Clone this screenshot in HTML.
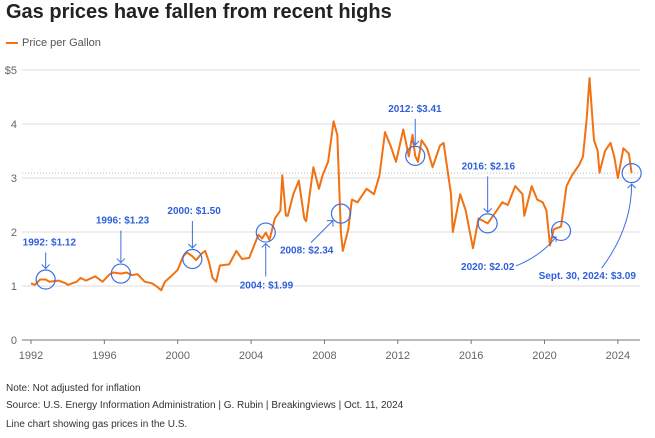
<!DOCTYPE html>
<html><head><meta charset="utf-8">
<style>
body{margin:0;background:#fff;font-family:"Liberation Sans",sans-serif;}
#wrap{position:relative;width:655px;height:438px;overflow:hidden}
.t{position:absolute;white-space:nowrap}
</style></head><body>
<div id="wrap">
<div class="t" style="left:6px;top:1px;font-size:20px;font-weight:bold;color:#222">Gas prices have fallen from recent highs</div>
<div class="t" style="left:6px;top:37px;font-size:11px;color:#555"><span style="display:inline-block;width:12px;height:2px;background:#f07212;vertical-align:middle;margin-right:4px"></span>Price per Gallon</div>
<svg id="ch" width="655" height="370" style="position:absolute;left:0;top:0"></svg>
<div class="t" style="left:6px;top:383px;font-size:10px;color:#333">Note: Not adjusted for inflation</div>
<div class="t" style="left:6px;top:400px;font-size:10px;color:#333">Source: U.S. Energy Information Administration | G. Rubin | Breakingviews | Oct. 11, 2024</div>
<div class="t" style="left:6px;top:419px;font-size:10px;color:#333">Line chart showing gas prices in the U.S.</div>
</div>
<script>
const years=[1992,1992.2,1992.5,1992.8,1993,1993.5,1993.9,1994,1994.5,1994.7,1995,1995.5,1995.9,1996.3,1996.5,1996.9,1997.2,1997.5,1997.8,1998.2,1998.6,1998.9,1999.1,1999.3,1999.7,2000,2000.3,2000.5,2000.8,2001,2001.3,2001.5,2001.7,2001.9,2002.1,2002.3,2002.8,2003.2,2003.5,2003.9,2004.4,2004.6,2004.8,2005,2005.3,2005.6,2005.7,2005.9,2006,2006.3,2006.6,2006.9,2007,2007.4,2007.7,2007.9,2008.2,2008.5,2008.7,2008.9,2009,2009.3,2009.5,2009.8,2010.3,2010.7,2011,2011.3,2011.6,2011.9,2012.3,2012.6,2012.8,2012.95,2013.1,2013.3,2013.6,2013.9,2014.3,2014.5,2014.9,2015,2015.4,2015.7,2015.9,2016.1,2016.4,2016.9,2017.3,2017.7,2018,2018.4,2018.8,2018.9,2019.3,2019.6,2019.9,2020.1,2020.3,2020.5,2020.9,2021.2,2021.5,2021.9,2022.1,2022.3,2022.45,2022.7,2022.9,2023,2023.3,2023.6,2023.8,2024,2024.3,2024.6,2024.75];
const prices=[1.05,1.02,1.12,1.12,1.08,1.10,1.05,1.02,1.08,1.15,1.10,1.18,1.08,1.22,1.25,1.23,1.25,1.20,1.22,1.08,1.05,0.98,0.92,1.08,1.20,1.30,1.55,1.62,1.55,1.48,1.60,1.65,1.45,1.15,1.08,1.38,1.40,1.65,1.50,1.52,1.95,1.88,1.99,1.85,2.25,2.40,3.05,2.30,2.30,2.70,2.95,2.25,2.20,3.20,2.80,3.05,3.30,4.05,3.80,2.00,1.65,2.05,2.60,2.55,2.80,2.70,3.05,3.85,3.60,3.30,3.90,3.40,3.80,3.41,3.30,3.70,3.55,3.20,3.60,3.65,2.70,2.00,2.70,2.40,2.05,1.70,2.25,2.16,2.35,2.55,2.50,2.85,2.70,2.30,2.85,2.60,2.55,2.40,1.75,2.05,2.10,2.85,3.05,3.25,3.40,4.10,4.85,3.70,3.50,3.10,3.50,3.65,3.40,3.00,3.55,3.45,3.09];
const yTicks=[0,1,2,3,4,5];
const yTickLabels=["0","1","2","3","4","$5"];
const xTicks=[1992,1996,2000,2004,2008,2012,2016,2020,2024];
const annYears=[1992.8,1996.9,2000.8,2004.8,2008.9,2012.95,2016.9,2020.9,2024.75];
const annValues=[1.12,1.23,1.50,1.99,2.34,3.41,2.16,2.02,3.09];
const annLabels=["1992: $1.12","1996: $1.23","2000: $1.50","2004: $1.99","2008: $2.34","2012: $3.41","2016: $2.16","2020: $2.02","Sept. 30, 2024: $3.09"];
const refValue=3.09;
const X=y=>31+(y-1992)*18.34, Y=v=>340-v*54;
const svg=document.getElementById('ch'),NS='http://www.w3.org/2000/svg';
function mk(t,a){const e=document.createElementNS(NS,t);for(const k in a)e.setAttribute(k,a[k]);svg.appendChild(e);return e;}
yTicks.forEach((v,i)=>{
 if(v>0){const g=mk('line',{x1:22,x2:640,y1:Y(v),y2:Y(v),stroke:'#ddd','stroke-width':1});
 
 }
 const t=mk('text',{x:17,y:Y(v)+4,'text-anchor':'end','font-size':11,fill:'#666','font-family':'Liberation Sans'});
 t.textContent=yTickLabels[i];
 
 
});
const ax=mk('line',{x1:22,x2:640,y1:Y(0),y2:Y(0),stroke:'#777','stroke-width':1});


const rl=mk('line',{x1:22,x2:640,y1:Y(refValue),y2:Y(refValue),stroke:'#bbb','stroke-dasharray':'1,2'});


xTicks.forEach(y=>{
 mk('line',{x1:X(y),x2:X(y),y1:Y(0),y2:Y(0)+4,stroke:'#777'});
 const t=mk('text',{x:X(y),y:Y(0)+19,'text-anchor':'middle','font-size':11,fill:'#666','font-family':'Liberation Sans'});
 t.textContent=y;
 
 
});
const p=mk('path',{d:years.map((y,i)=>(i?'L':'M')+X(y).toFixed(1)+','+Y(prices[i]).toFixed(1)).join(''),fill:'none',stroke:'#f07212','stroke-width':2,'stroke-linejoin':'round'});


// label offsets relative to circle: [labelX, labelY, arrow path]
const lo=[[-23,-34,'v'],[-25,-50,'v'],[-25,-45,'v'],[-26,56,'u'],[-61,40,'d'],[-27,-44,'v'],[-26,-54,'v'],[-100,39,'c'],[-93,106,'c2']];
annYears.forEach((y,i)=>{
 const cx=X(y),cy=Y(annValues[i]);
 const c=mk('circle',{cx:cx,cy:cy,r:9.5,fill:'none',stroke:'#3d6fe0','stroke-width':1.2});
 
 
 const [dx,dy,k]=lo[i];
 const t=mk('text',{x:cx+dx,y:cy+dy,'font-size':10,'font-weight':'bold',fill:'#2f5fdc','font-family':'Liberation Sans'});
 t.textContent=annLabels[i];
 
 
 let d;
 if(k==='v')d=`M${cx},${cy+dy+7}V${cy-11}M${cx-4},${cy-15}L${cx},${cy-11}L${cx+4},${cy-15}`;
 else if(k==='u')d=`M${cx},${cy+dy-12}V${cy+11}M${cx-4},${cy+15}L${cx},${cy+11}L${cx+4},${cy+15}`;
 else if(k==='d')d=`M${cx-30},${cy+29}L${cx-8},${cy+7}M${cx-14},${cy+7}L${cx-8},${cy+7}L${cx-8},${cy+13}`;
 else if(k==='c')d=`M${cx-45},${cy+35}Q${cx-20},${cy+25} ${cx-5},${cy+6}M${cx-10},${cy+7}L${cx-5},${cy+6}L${cx-5},${cy+11}`;
 else d=`M${cx-30},${cy+95}Q${cx},${cy+55} ${cx},${cy+11}M${cx-4},${cy+15}L${cx},${cy+11}L${cx+4},${cy+15}`;
 const a=mk('path',{d:d,fill:'none',stroke:'#3d6fe0','stroke-width':1});
 
 
});
</script>
</body></html>
